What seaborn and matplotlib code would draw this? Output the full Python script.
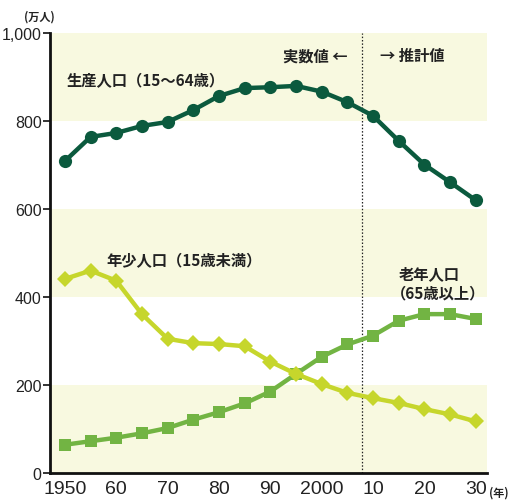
import numpy as np
import pandas as pd
import matplotlib
matplotlib.use('Agg')
import matplotlib.pyplot as plt
import seaborn as sns

years = [1950, 1955, 1960, 1965, 1970, 1975, 1980, 1985, 1990,
         1995, 2000, 2005, 2010, 2015, 2020, 2025, 2030]
working = [709, 764, 773, 789, 798, 825, 857, 875, 877,
           880, 867, 843, 812, 755, 701, 661, 620]
young = [441, 460, 437, 361, 305, 295, 293, 288, 253,
         225, 202, 182, 170, 159, 145, 133, 117]
elderly = [64, 72, 80, 90, 102, 121, 138, 158, 185,
           225, 264, 292, 312, 346, 361, 361, 350]

xtick_pos = [1950, 1960, 1970, 1980, 1990, 2000, 2010, 2020, 2030]
xtick_lab = ['1950', '60', '70', '80', '90', '2000', '10', '20', '30']
ytick_pos = [0, 200, 400, 600, 800, 1000]
ytick_lab = ['0', '200', '400', '600', '800', '1,000']

df = pd.DataFrame({'年': years, '生産': working, '年少': young, '老年': elderly})

sns.set_style('white')
plt.rcParams['font.family'] = ['Noto Sans CJK JP', 'DejaVu Sans']

fig = plt.figure(figsize=(5.1, 5.02), dpi=100)
ax = fig.add_axes([0.098, 0.056, 0.857, 0.876])

# background bands
band = '#f8f9e0'
for lo in [0, 400, 800]:
    ax.axhspan(lo, lo + 200, color=band, zorder=0, lw=0)

ax.axvline(2007.8, color='#222222', lw=0.9, ls=(0, (1.2, 1.5)), zorder=1)

sns.lineplot(data=df, x='年', y='生産', ax=ax, color='#0b5a3e', lw=3.2,
             marker='o', markersize=9.5, markeredgewidth=0, zorder=4)
sns.lineplot(data=df, x='年', y='老年', ax=ax, color='#72b443', lw=3.2,
             marker='s', markersize=8, markeredgewidth=0, zorder=3)
sns.lineplot(data=df, x='年', y='年少', ax=ax, color='#c6d62c', lw=3.2,
             marker='D', markersize=8.5, markeredgewidth=0, zorder=3)

ax.set_xlim(1947.1, 2032.2)
ax.set_ylim(0, 1000)
ax.set_xlabel('')
ax.set_ylabel('')
ax.set_xticks(xtick_pos)
ax.set_xticklabels(xtick_lab, fontsize=14, color='#222222', family='Liberation Sans')
ax.set_yticks(ytick_pos)
ax.set_yticklabels(ytick_lab, fontsize=11.5, color='#222222', family='Liberation Sans')
ax.tick_params(axis='x', length=0, pad=5)
ax.tick_params(axis='y', length=5, width=1.2, color='#111111', pad=1, left=True)

for s in ['top', 'right']:
    ax.spines[s].set_visible(False)
for s in ['left', 'bottom']:
    ax.spines[s].set_color('#111111')
    ax.spines[s].set_linewidth(2)

tk = dict(fontsize=11, fontweight='bold', color='#222222')
ax.text(1950.3, 893, '生産人口（15～64歳）', **tk, va='center')
ax.text(1958.0, 484, '年少人口（15歳未満）', **tk, va='center')
ax.text(2015.0, 454, '老年人口', **tk, va='center')
ax.text(2013.4, 410, '（65歳以上）', **tk, va='center')
ax.text(2005.0, 950, '実数値 ←', **tk, va='center', ha='right')
ax.text(2011.3, 950, '→ 推計値', **tk, va='center', ha='left')

fig.text(0.048, 0.966, '(万人)', fontsize=8, fontweight='bold', color='#222222', va='center')
fig.text(0.958, 0.018, '(年)', fontsize=8, fontweight='bold', color='#222222', va='center')

fig.savefig('out.png', dpi=100)
